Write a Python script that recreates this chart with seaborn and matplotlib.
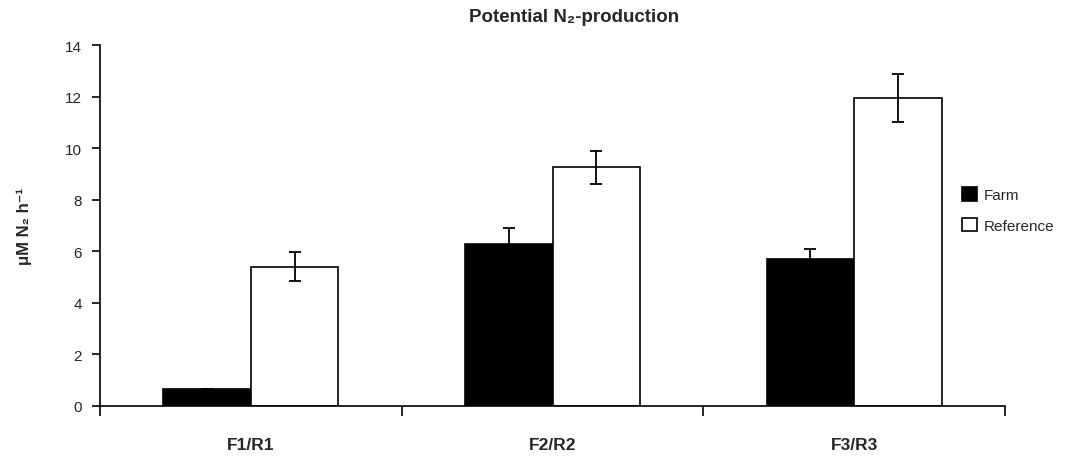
import matplotlib
matplotlib.use("Agg")
import matplotlib.pyplot as plt
import numpy as np
import pandas as pd
import seaborn as sns

# values
sites = ["F1/R1", "F2/R2", "F3/R3"]
farm = [0.65, 6.3, 5.7]
farm_err = [0.0, 0.6, 0.4]
reference = [5.4, 9.25, 11.95]
reference_err = [0.57, 0.65, 0.93]
y_ticks = [0, 2, 4, 6, 8, 10, 12, 14]

df = pd.DataFrame({
    "site": sites * 2,
    "treatment": ["Farm"] * len(sites) + ["Reference"] * len(sites),
    "value": farm + reference,
})

sns.set_theme(style="ticks")
fonts = ["Liberation Sans", "DejaVu Sans"]
plt.rcParams["font.family"] = fonts

fig = plt.figure(figsize=(10.84, 4.6), dpi=100)
ax = fig.add_axes([100 / 1084, 53 / 460, 905 / 1084, 361 / 460])

sns.barplot(
    data=df, x="site", y="value", hue="treatment",
    palette={"Farm": "black", "Reference": "white"},
    edgecolor="black", linewidth=1.2, width=0.58, gap=0,
    errorbar=None, ax=ax,
)

# error bars from the drawn bar centres
for container, errs in zip(ax.containers, [farm_err, reference_err]):
    xs = [b.get_x() + b.get_width() / 2 for b in container]
    ys = [b.get_height() for b in container]
    ax.errorbar(xs, ys, yerr=errs, fmt="none", ecolor="black",
                elinewidth=1.3, capsize=4.3, capthick=1.3, zorder=5)

ax.set_ylim(0, 14)
ax.set_yticks(y_ticks)
ax.set_xlim(-0.5, 2.5)
ax.set_xticks(range(len(sites)))
ax.set_xticklabels(sites, fontweight="bold", fontsize=12.5)
ax.set_xticks([-0.5, 0.5, 1.5, 2.5], minor=True)
ax.tick_params(axis="x", which="major", length=0, pad=22)
ax.tick_params(axis="x", which="minor", length=7, width=1.2, color="black")
ax.tick_params(axis="y", length=6, width=1.2, labelsize=11, pad=7, color="black")
for side in ["left", "bottom"]:
    ax.spines[side].set_color("black")
    ax.spines[side].set_linewidth(1.2)
sns.despine(ax=ax)

ax.set_xlabel("")
ax.set_ylabel("μM N₂ h⁻¹", fontweight="bold", fontsize=12, family=fonts)
ax.yaxis.set_label_coords(-0.075, 0.5)

fig.text(574 / 1084, 1 - 17 / 460, "Potential N₂-production",
         ha="center", va="center", fontweight="bold", fontsize=13.5, family=fonts)

handles, labels = ax.get_legend_handles_labels()
ax.legend(handles, labels, loc="center left",
          bbox_to_anchor=(956 / 1084, 1 - 211 / 460), bbox_transform=fig.transFigure,
          frameon=False, handlelength=1.0, handleheight=1.0, handletextpad=0.4,
          labelspacing=1.0, fontsize=11, borderaxespad=0)

fig.savefig("out.png", dpi=100)
